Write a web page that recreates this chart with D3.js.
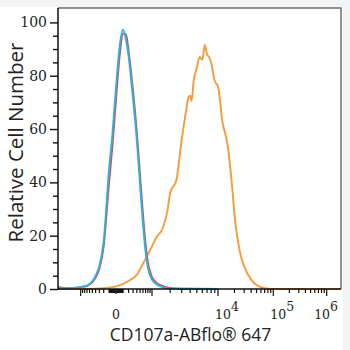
<!DOCTYPE html>
<html>
<head>
<meta charset="utf-8">
<script src="https://cdn.jsdelivr.net/npm/d3@7"></script>
<style>
  html, body { margin: 0; padding: 0; background: #f3f4f6; }
  svg { display: block; }
</style>
</head>
<body>
<svg id="chart" width="350" height="350"></svg>
<script>
// histogram data, x in fluorescence units (logicle-like axis), y = relative count
const isotypeX = [-3000, -2000, -1500, -1000, -700, -500, -400, -300, -200, -100, -50, 0, 50, 100, 150, 200, 250, 300, 400, 500, 600, 700, 800, 1000, 1200, 1500, 2000, 3000, 10000];
const controlY = [0.8, 0.3, 0.4, 0.7, 1.2, 2.6, 4.3, 7.5, 16, 40, 53, 71, 88, 95.8, 95.5, 89.5, 82, 74.5, 59, 42.5, 28, 17, 10, 4.5, 2.3, 1.2, 0.4, 0.1, 0];
const isotypeY = [0.3, 0.3, 0.4, 0.8, 1.3, 3, 5, 8.5, 18, 45, 57.5, 75.5, 91.5, 97.3, 93.5, 87.5, 79.5, 71.5, 56, 39, 24.5, 14, 8, 3.5, 1.8, 0.7, 0.2, 0.1, 0];

const stainedX = [-3000, -1000, -300, 0, 200, 400, 600, 800, 1000, 1200, 1500, 1800, 2000, 2500, 3000, 3500, 3800, 4000, 4200, 4500, 5000, 5500, 6000, 6500, 7000, 7500, 8000, 9000, 10000, 12000, 15000, 18000, 20000, 25000, 30000, 40000, 50000, 70000, 100000, 1000000, 1800000];
const stainedY = [0, 0, 0.2, 1, 3, 5.4, 9.5, 13, 16, 19.5, 22.5, 29, 36, 41, 56, 67, 72, 72.5, 70.5, 78, 83, 87, 86, 91.5, 88, 87, 85, 78, 76, 63, 54, 39, 28, 14, 8.5, 3.5, 1.5, 0.3, 0, 0, 0];

const yMajor = [0, 20, 40, 60, 80, 100];
const yMinor = [5, 10, 15, 25, 30, 35, 45, 50, 55, 65, 70, 75, 85, 90, 95];

const xMajor = [-1000, 1000, 10000, 100000, 1000000];
const xZero = [0];
const xMinor = [-900, -800, -700, -600, -500, -400, -300, -200, -100,
  -90, -80, -70, -60, -50, -40, -30, -20, -10, 10, 20, 30, 40, 50, 60, 70, 80, 90,
  100, 200, 300, 400, 500, 600, 700, 800, 900,
  2000, 3000, 4000, 5000, 6000, 7000, 8000, 9000,
  20000, 30000, 40000, 50000, 60000, 70000, 80000, 90000,
  200000, 300000, 400000, 500000, 600000, 700000, 800000, 900000];
const xLabelValues = [0, 10000, 100000, 1000000];
const xLabelExp = [null, 4, 5, 6];

const pLeft = 58, pRight = 341, pTop = 8, pBottom = 289;

const svg = d3.select("#chart");
svg.append("rect")
   .attr("x", 0).attr("y", 7)
   .attr("width", 343).attr("height", 343)
   .attr("fill", "#fff");

// biexponential-ish x: symlog transform, then piecewise linear between decades
const C = 300;
const g = v => Math.sign(v) * Math.log10(1 + Math.abs(v) / C);
const xs = d3.scaleLinear()
  .domain([-1000, 0, 1000, 1e4, 1e5, 1e6].map(g))
  .range([80.7, 116, 152, 218, 273.3, 326.7]);
const x = v => xs(g(v));

const y = d3.scaleLinear().domain([0, 105.4]).range([pBottom, pTop]);

// frame top/right
svg.append("path")
   .attr("d", `M${pLeft},${pTop}H${pRight}V${pBottom}`)
   .attr("fill", "none")
   .attr("stroke", "#6f6f6f")
   .attr("stroke-width", 1.5);

// curves
const line = d3.line()
  .x(d => x(d[0]))
  .y(d => y(d[1]))
  .curve(d3.curveMonotoneX);

const plot = svg.append("g");
plot.append("path")
    .attr("d", line(stainedX.map((v, i) => [v, stainedY[i]])))
    .attr("fill", "none").attr("stroke", "#f79a3a").attr("stroke-width", 1.9);
plot.append("path")
    .attr("d", line(isotypeX.map((v, i) => [v, controlY[i]])))
    .attr("fill", "none").attr("stroke", "#e8473f").attr("stroke-width", 1.9);
plot.append("path")
    .attr("d", line(isotypeX.map((v, i) => [v, isotypeY[i]])))
    .attr("fill", "none").attr("stroke", "#22b5e6").attr("stroke-width", 1.9);

// y axis
const yAxis = svg.append("g")
  .attr("transform", `translate(${pLeft},0)`)
  .call(d3.axisLeft(y).tickValues(yMajor).tickSize(8).tickPadding(3).tickFormat(d3.format("d")));
svg.append("g")
  .attr("transform", `translate(${pLeft},0)`)
  .call(d3.axisLeft(y).tickValues(yMinor).tickSize(5).tickFormat(""))
  .select(".domain").remove();
yAxis.select(".domain").attr("d", `M0,${pTop}V${pBottom}`);
svg.selectAll(".tick line").attr("stroke", "#111").attr("stroke-width", 1.4);
yAxis.select(".domain").attr("stroke", "#111").attr("stroke-width", 1.5);
yAxis.selectAll("text")
     .style("font-family", "DejaVu Serif")
     .style("font-size", "14px")
     .attr("fill", "#222");

// x axis, drawn by hand because of the custom transform
const xAxis = svg.append("g");
xAxis.append("path")
     .attr("d", `M${pLeft},${pBottom}H${pRight}`)
     .attr("stroke", "#111").attr("stroke-width", 1.5);
const tickSets = [[xMajor, 7], [xZero, 5], [xMinor, 4]];
tickSets.forEach(function (t) {
  xAxis.selectAll(null)
       .data(t[0])
       .enter()
       .append("line")
       .attr("x1", d => x(d)).attr("x2", d => x(d))
       .attr("y1", pBottom).attr("y2", pBottom + t[1])
       .attr("stroke", "#111").attr("stroke-width", 1.2);
});

const labels = xAxis.selectAll("text.xl")
  .data(xLabelValues)
  .enter()
  .append("text")
  .attr("class", "xl")
  .attr("y", 319)
  .style("font-family", "DejaVu Serif")
  .style("font-size", "12.5px")
  .attr("fill", "#222");
labels.each(function (d, i) {
  const t = d3.select(this);
  if (xLabelExp[i] === null) {
    t.attr("x", x(d)).attr("text-anchor", "middle").text("0");
  } else {
    t.append("tspan").text("10");
    t.append("tspan").attr("dy", -8).text(xLabelExp[i]);
    const w = this.getComputedTextLength();
    let x0 = x(d) - 3;
    if (x0 + w > 338) x0 = 338 - w;
    t.attr("x", x0);
  }
});

// axis titles
svg.append("text")
   .attr("x", 190.5).attr("y", 341)
   .attr("text-anchor", "middle")
   .style("font-family", "Open Sans")
   .style("font-size", "17.5px")
   .attr("fill", "#222")
   .text("CD107a-ABflo\u00AE 647");

svg.append("text")
   .attr("transform", "translate(23,142.5) rotate(-90)")
   .attr("text-anchor", "middle")
   .style("font-family", "Open Sans")
   .style("font-size", "20.5px")
   .attr("fill", "#222")
   .text("Relative Cell Number");
</script>
</body>
</html>
